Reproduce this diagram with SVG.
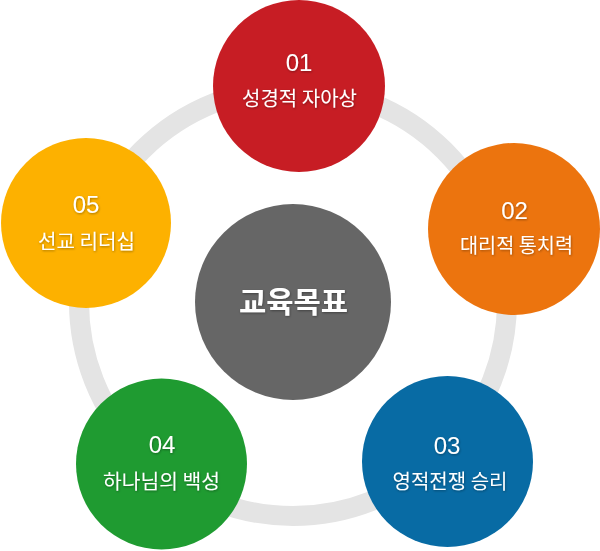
<svg xmlns="http://www.w3.org/2000/svg" width="600" height="551" viewBox="0 0 600 551">
<defs>
<filter id="sh" x="-20%" y="-50%" width="140%" height="200%">
<feDropShadow dx="0.6" dy="1" stdDeviation="0.9" flood-color="#000" flood-opacity="0.35"/>
</filter>
<style>
.num{font-family:"Liberation Sans",Arial,sans-serif;font-size:24px;fill:#fff;text-anchor:middle}
.lbl{font-family:"Noto Sans CJK KR","Liberation Sans",sans-serif;font-size:20px;fill:#fff;text-anchor:middle}
.ctr{font-family:"Noto Sans CJK KR","Liberation Sans",sans-serif;font-size:29px;font-weight:bold;fill:#fff;text-anchor:middle}
</style>
</defs>
<rect width="600" height="551" fill="#fff"/>
<g id="connectors">
<circle cx="293" cy="302" r="214" fill="none" stroke="#e4e4e4" stroke-width="20"/>
</g>
<g id="center">
<circle cx="293" cy="302" r="98" fill="#666666"/>
<text class="ctr" x="293.5" y="313" textLength="109" lengthAdjust="spacingAndGlyphs" filter="url(#sh)">교육목표</text>
</g>
<g id="node01">
<circle cx="299" cy="86" r="86" fill="#c71d24"/>
<text class="num" x="299" y="71" filter="url(#sh)">01</text>
<text class="lbl" x="299.5" y="106" textLength="115" lengthAdjust="spacingAndGlyphs" filter="url(#sh)">성경적 자아상</text>
</g>
<g id="node02">
<circle cx="514" cy="229" r="86" fill="#ec740e"/>
<text class="num" x="514.5" y="219" filter="url(#sh)">02</text>
<text class="lbl" x="516.5" y="253" textLength="113" lengthAdjust="spacingAndGlyphs" filter="url(#sh)">대리적 통치력</text>
</g>
<g id="node03">
<circle cx="447.5" cy="461.5" r="85.5" fill="#086ba4"/>
<text class="num" x="447" y="454" filter="url(#sh)">03</text>
<text class="lbl" x="450" y="489" textLength="115" lengthAdjust="spacingAndGlyphs" filter="url(#sh)">영적전쟁 승리</text>
</g>
<g id="node04">
<circle cx="161.5" cy="464" r="85.5" fill="#1f9b31"/>
<text class="num" x="162" y="453" filter="url(#sh)">04</text>
<text class="lbl" x="161.5" y="489" textLength="117" lengthAdjust="spacingAndGlyphs" filter="url(#sh)">하나님의 백성</text>
</g>
<g id="node05">
<circle cx="86" cy="223" r="85" fill="#fdb100"/>
<text class="num" x="86" y="213" filter="url(#sh)">05</text>
<text class="lbl" x="86.5" y="249" textLength="97" lengthAdjust="spacingAndGlyphs" filter="url(#sh)">선교 리더십</text>
</g>
</svg>
